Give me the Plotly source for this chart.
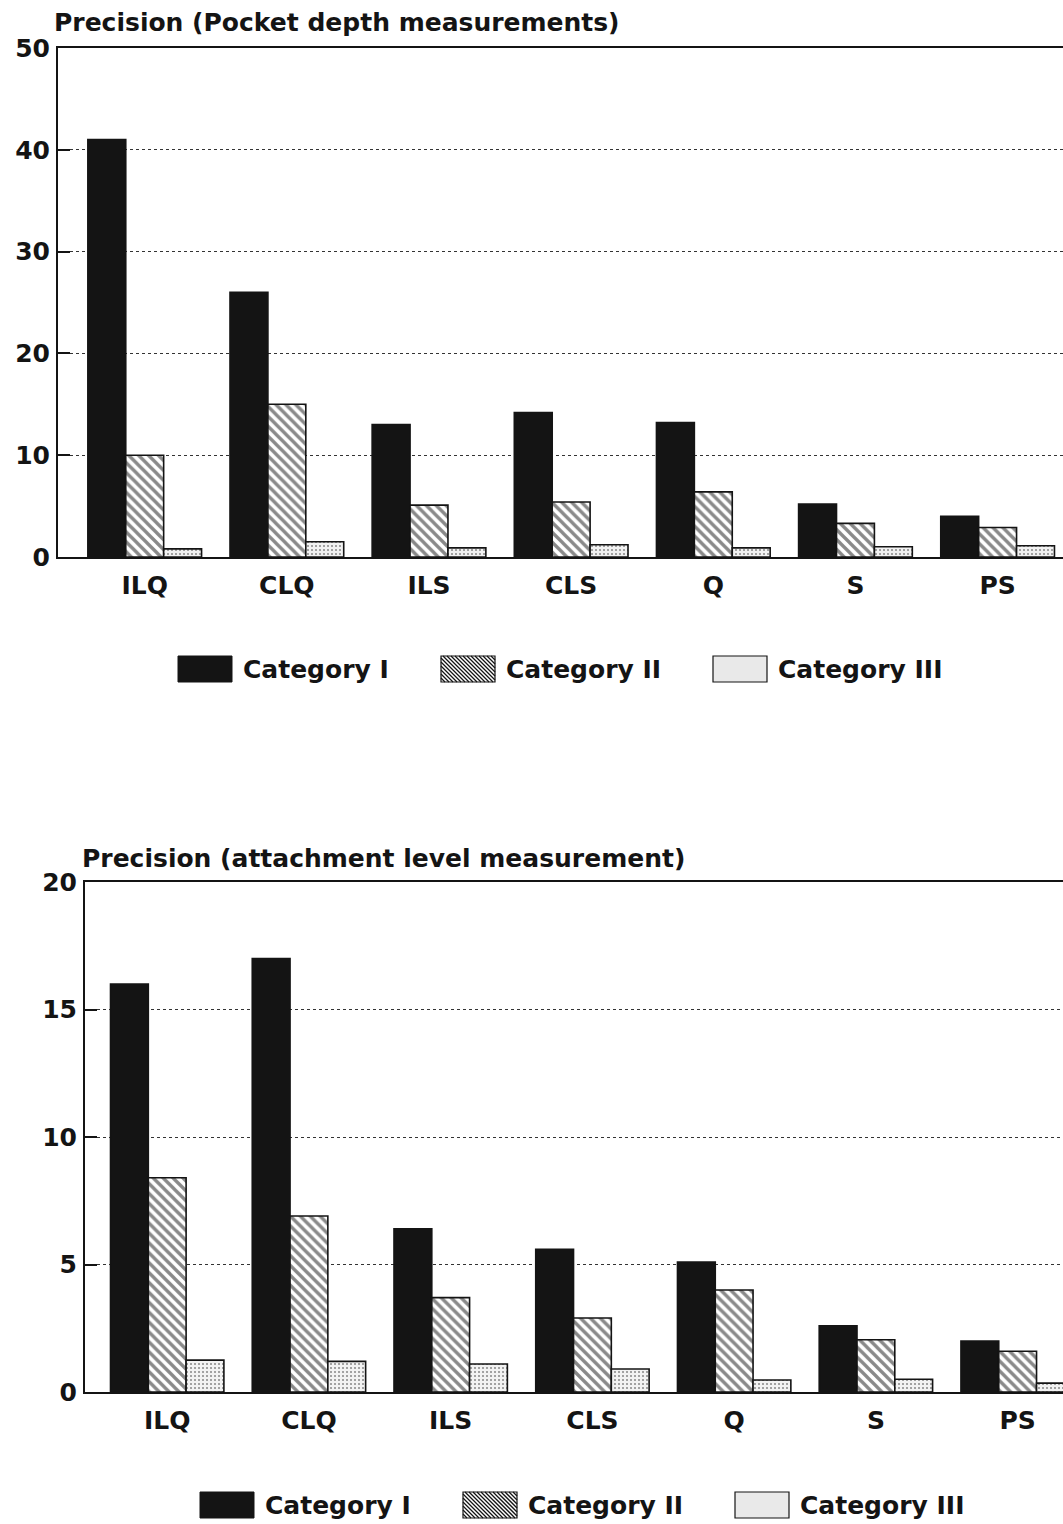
import plotly.graph_objects as go

# Measurement methods on the x axis
methods = ["ILQ", "CLQ", "ILS", "CLS", "Q", "S", "PS"]
series_names = ["Category I", "Category II", "Category III"]

# Pocket depth precision (%)
pocket_cat1 = [41.0, 26.0, 13.0, 14.2, 13.2, 5.2, 4.0]
pocket_cat2 = [10.0, 15.0, 5.1, 5.4, 6.4, 3.3, 2.9]
pocket_cat3 = [0.8, 1.5, 0.9, 1.2, 0.9, 1.0, 1.1]

# Attachment level precision (%)
attach_cat1 = [16.0, 17.0, 6.4, 5.6, 5.1, 2.6, 2.0]
attach_cat2 = [8.4, 6.9, 3.7, 2.9, 4.0, 2.05, 1.6]
attach_cat3 = [1.25, 1.2, 1.1, 0.9, 0.47, 0.5, 0.35]

pocket_ticks = [0, 10, 20, 30, 40, 50]
attach_ticks = [0, 5, 10, 15, 20]

W, H = 1063, 1524
FONT = "DejaVu Sans"
INK = "#141414"

styles = [
    dict(color=INK, pattern=None),
    dict(color="white", pattern=dict(shape="\\", fgcolor=INK, bgcolor="white",
                                     size=7, solidity=0.48, fillmode="overlay")),
    dict(color="white", pattern=dict(shape=".", fgcolor="#2a2a2a", bgcolor="#f2f2f2",
                                     size=4, solidity=0.22, fillmode="overlay")),
]

fig = go.Figure()


def add_group(values_list, xref, yref):
    for name, vals, st in zip(series_names, values_list, styles):
        marker = dict(color=st["color"], line=dict(color=INK, width=1.6))
        if st["pattern"] is not None:
            marker["pattern"] = st["pattern"]
        fig.add_trace(go.Bar(x=methods, y=vals, name=name, marker=marker,
                             xaxis=xref, yaxis=yref, showlegend=False))


add_group([pocket_cat1, pocket_cat2, pocket_cat3], "x", "y")
add_group([attach_cat1, attach_cat2, attach_cat3], "x2", "y2")


def px_x(v):
    return v / W


def px_y(v):
    return 1 - v / H


def bold(size):
    return dict(family=FONT, size=size, color=INK, weight="bold")


axis_font = bold(25)

common_x = dict(type="category", showgrid=False, ticks="", showline=True,
                linecolor=INK, linewidth=2, mirror=True, tickfont=axis_font,
                zeroline=False, automargin=False, ticklabelstandoff=5)
common_y = dict(showline=True, linecolor=INK, linewidth=2, ticks="inside",
                ticklen=12, tickwidth=2, tickcolor=INK, tickfont=axis_font,
                gridcolor="#333333", griddash="dot", gridwidth=1,
                zeroline=False, automargin=False, ticklabelstandoff=1)

fig.update_layout(
    width=W, height=H,
    margin=dict(l=0, r=0, t=0, b=0),
    paper_bgcolor="white", plot_bgcolor="white",
    barmode="group", bargap=0.2, bargroupgap=0.0,
    font=dict(family=FONT, color=INK),
    xaxis=dict(common_x, domain=[px_x(58), 1], range=[-0.61, 6.46],
               anchor="y"),
    yaxis=dict(common_y, domain=[px_y(557), px_y(48)], range=[0, 50],
               tickvals=pocket_ticks, anchor="x"),
    xaxis2=dict(common_x, domain=[px_x(85), 1], range=[-0.58, 6.32],
                anchor="y2"),
    yaxis2=dict(common_y, domain=[px_y(1392), px_y(882)], range=[0, 20],
                tickvals=attach_ticks, anchor="x2"),
)

# Titles above each panel
fig.add_annotation(text="Precision (Pocket depth measurements)", xref="paper",
                   yref="paper", x=px_x(52), y=px_y(22), xanchor="left",
                   yanchor="middle", showarrow=False, font=bold(25))
fig.add_annotation(text="Precision (attachment level measurement)", xref="paper",
                   yref="paper", x=px_x(80), y=px_y(858), xanchor="left",
                   yanchor="middle", showarrow=False, font=bold(25))

# Hand-built legends with large swatches under each panel
legend_rows = [
    dict(y=669, swatch_x=[178, 441, 713]),
    dict(y=1505, swatch_x=[200, 463, 735]),
]
SW, SH = 54, 26


def swatch_paths(x0, y0, kind):
    shapes = []
    box = dict(type="rect", xref="paper", yref="paper",
               x0=px_x(x0), x1=px_x(x0 + SW),
               y0=px_y(y0 + SH / 2), y1=px_y(y0 - SH / 2))
    if kind == 0:
        shapes.append(dict(box, fillcolor=INK, line=dict(color=INK, width=1)))
    elif kind == 1:
        shapes.append(dict(box, fillcolor="white", line=dict(color=INK, width=1.2)))
        step = 4
        top, bot = y0 - SH / 2, y0 + SH / 2
        start = x0 - SH
        while start < x0 + SW:
            xa, ya = start, top
            xb, yb = start + SH, bot
            # clip the diagonal to the swatch box
            if xa < x0:
                ya = top + (x0 - xa)
                xa = x0
            if xb > x0 + SW:
                yb = bot - (xb - (x0 + SW))
                xb = x0 + SW
            if xb > xa:
                shapes.append(dict(type="line", xref="paper", yref="paper",
                                   x0=px_x(xa), y0=px_y(ya), x1=px_x(xb),
                                   y1=px_y(yb), line=dict(color=INK, width=1.3)))
            start += step
    else:
        shapes.append(dict(box, fillcolor="#e9e9e9", line=dict(color=INK, width=1.2)))
    return shapes


for row in legend_rows:
    for k, (sx, name) in enumerate(zip(row["swatch_x"], series_names)):
        for shp in swatch_paths(sx, row["y"], k):
            fig.add_shape(shp)
        fig.add_annotation(text=name, xref="paper", yref="paper",
                           x=px_x(sx + SW + 9), y=px_y(row["y"]),
                           xanchor="left", yanchor="middle", showarrow=False,
                           font=bold(25))

fig.write_html("out.html")
